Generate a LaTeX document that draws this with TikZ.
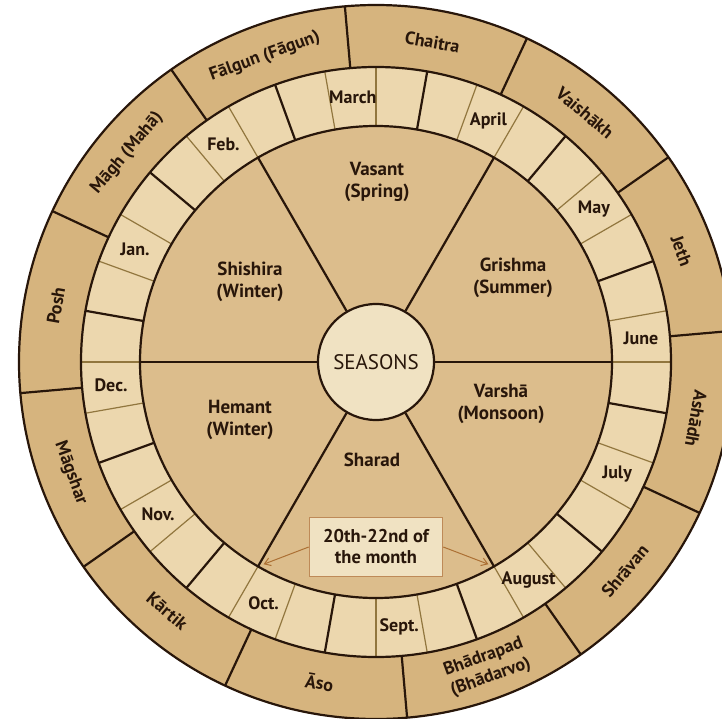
\documentclass[tikz,border=0pt]{standalone}
\usepackage{fontspec}
\setmainfont{PT Sans}
\usetikzlibrary{arrows.meta}

\definecolor{anelloesterno}{RGB}{214,180,126}
\definecolor{casella}{RGB}{236,215,174}
\definecolor{stagione}{RGB}{220,189,140}
\definecolor{centro}{RGB}{240,226,194}
\definecolor{marronescuro}{RGB}{40,22,10}
\definecolor{oliva}{RGB}{145,118,62}
\definecolor{ruggine}{RGB}{172,112,52}
\definecolor{cornicenota}{RGB}{190,138,88}

\begin{document}
\begin{tikzpicture}[
  x=1pt, y=1pt,
  font=\bfseries\fontsize{18}{21}\selectfont,
  bordo/.style={draw=marronescuro, line width=2.2pt},
  divisorio/.style={draw=oliva, line width=1.2pt},
  etichetta/.style={inner sep=1pt, text=marronescuro, align=center},
  stagionetxt/.style={etichetta, font=\bfseries\fontsize{19}{22}\selectfont},
  freccia/.style={draw=ruggine, line width=1pt, -{Straight Barb[length=6pt,width=8pt]}, shorten >=6pt}
]

%--------------------------------------------------------------
% Cornice e ritaglio
%--------------------------------------------------------------
\useasboundingbox (-376,-356) rectangle (346,362);
\clip (-376,-356) rectangle (346,362);
\fill[white] (-376,-356) rectangle (346,362);

%--------------------------------------------------------------
% Dischi: anello esterno, anello dei mesi, area delle stagioni
%--------------------------------------------------------------
\fill[anelloesterno] (0,0) circle[radius=357];
\fill[casella] (0,0) circle[radius=295];
\fill[stagione] (0,0) circle[radius=236];

% divisioni dei mesi indiani
\foreach \a in {5,35,...,335}
  \draw[bordo] (\a:295) -- (\a:357);

% caselle dei mesi (spesse ogni 30 gradi, sottili le altre)
\foreach \a in {0,10,...,350}{
  \pgfmathtruncatemacro\resto{mod(\a+10,30)}
  \ifnum\resto=0
    \draw[bordo] (\a:236) -- (\a:295);
  \else
    \draw[divisorio] (\a:236) -- (\a:295);
  \fi
}

\draw[bordo] (0,0) circle[radius=357];
\draw[bordo] (0,0) circle[radius=295];
\draw[bordo] (0,0) circle[radius=236];

%--------------------------------------------------------------
% Centro e raggi delle stagioni
%--------------------------------------------------------------
\node[circle, bordo, fill=centro, minimum size=116pt, inner sep=0pt,
      text=marronescuro, font=\fontsize{21}{24}\selectfont] (stagioni) at (0,0) {SEASONS};
\foreach \a in {0,60,...,300}{
  \coordinate (bordo-\a) at (\a:236);
  \draw[bordo] (stagioni.\a) -- (bordo-\a);
}

%--------------------------------------------------------------
% Mesi indiani (anello esterno)
%--------------------------------------------------------------
\foreach \a/\rot/\nome in {80/-10/Chaitra, 50/-40/Vaishākh, 20/-70/Jeth,
    -10/-100/Ashādh, -40/50/Shrāvan, -70/20/{Bhādrapad\\(Bhādarvo)},
    -100/-10/Āso, -130/-40/Kārtik, -160/-70/Māgshar,
    170/80/Posh, 140/50/Māgh (Mahā), 110/20/Fālgun (Fāgun)}
  \node[etichetta, rotate=\rot] (indiano\a) at (\a:325) {\nome};

%--------------------------------------------------------------
% Mesi del calendario gregoriano
%--------------------------------------------------------------
\foreach \a/\nome in {0/June, 30/May, 60/April, 90/March, 120/Feb., 150/Jan.,
    180/Dec., 210/Nov., 240/Oct., 270/Sept., 300/August, 330/July}
  \node[etichetta] (mese\a) at ({\a+5}:266) {\nome};

%--------------------------------------------------------------
% Stagioni
%--------------------------------------------------------------
\node[stagionetxt] (vasant) at (1,180) {Vasant\\(Spring)};
\node[stagionetxt] (grishma) at (137,84) {Grishma\\(Summer)};
\node[stagionetxt] (shishira) at (-126,80) {Shishira\\(Winter)};
\node[stagionetxt] (hemant) at (-136,-58) {Hemant\\(Winter)};
\node[stagionetxt] (varsha) at (125,-42) {Varshā\\(Monsoon)};
\node[stagionetxt] (sharad) at (-4,-98) {Sharad};

%--------------------------------------------------------------
% Nota sul cambio di stagione
%--------------------------------------------------------------
\node[etichetta, draw=cornicenota, line width=1.6pt, fill=centro,
      minimum width=133pt, minimum height=59pt, inner sep=3pt,
      font=\bfseries\fontsize{18.5}{21}\selectfont] (nota) at (0,-185) {20th-22nd of\\the month};
\draw[freccia] (nota.west) -- (bordo-240);
\draw[freccia] (nota.east) -- (bordo-300);

\end{tikzpicture}
\end{document}
